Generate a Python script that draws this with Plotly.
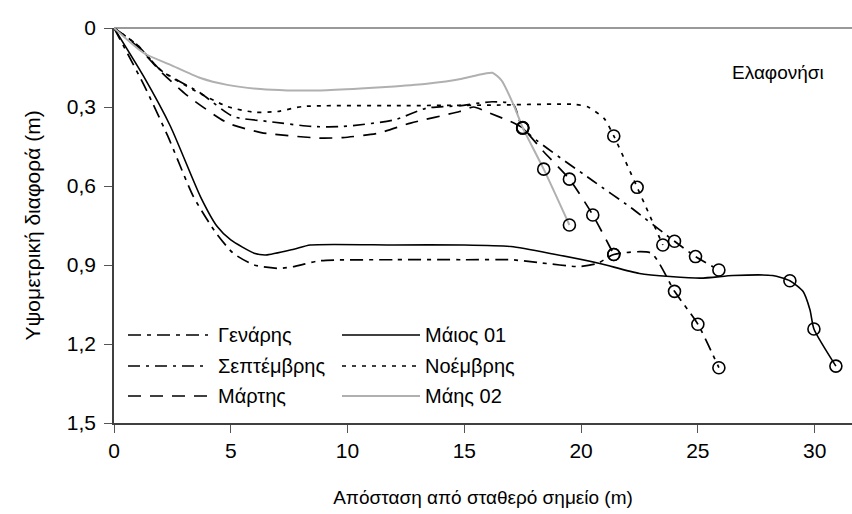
import plotly.graph_objects as go

# Beach profiles at Elafonisi: distance from the fixed point (m) vs elevation difference (m)
jan_x = [0, 1.3, 2.3, 3.4, 4.3, 5.1, 6.0, 7.1, 7.7, 8.8, 12.0, 15.0, 17.0, 18.3, 19.9, 20.7, 21.4, 23.0, 24.0, 25.0, 25.9]
jan_y = [0, 0.22, 0.41, 0.64, 0.77, 0.855, 0.90, 0.913, 0.906, 0.884, 0.88, 0.88, 0.88, 0.892, 0.906, 0.894, 0.86, 0.855, 1.0, 1.125, 1.29]
jan_rings = [16, 18, 19, 20]

sep_x = [0, 1.0, 2.0, 3.7, 5.1, 6.6, 8.5, 9.8, 12.0, 13.4, 14.8, 16.2, 17.1, 17.5, 20.5, 22.1, 24.0, 24.9, 25.9]
sep_y = [0, 0.065, 0.16, 0.247, 0.336, 0.355, 0.374, 0.374, 0.349, 0.304, 0.295, 0.28, 0.29, 0.38, 0.58, 0.68, 0.81, 0.868, 0.919]
sep_rings = [13, 16, 17, 18]

mar_x = [0, 1.0, 2.0, 3.1, 4.85, 6.3, 8.8, 9.8, 11.3, 12.7, 14.8, 15.4, 16.0, 17.1, 17.5, 18.4, 19.5, 20.5, 21.4]
mar_y = [0, 0.07, 0.165, 0.254, 0.36, 0.397, 0.418, 0.416, 0.40, 0.361, 0.317, 0.30, 0.32, 0.36, 0.38, 0.47, 0.574, 0.71, 0.86]
mar_rings = [14, 16, 17, 18]

may1_x = [0, 1.27, 2.42, 3.7, 4.42, 5.0, 6.0, 6.5, 7.7, 8.4, 12.0, 15.0, 17.0, 18.8, 20.8, 22.5, 25.1, 26.5, 28.2, 28.94, 29.5, 29.8, 29.97, 30.91]
may1_y = [0, 0.184, 0.374, 0.64, 0.754, 0.805, 0.855, 0.862, 0.84, 0.824, 0.824, 0.824, 0.83, 0.858, 0.894, 0.932, 0.95, 0.94, 0.94, 0.96, 1.0, 1.07, 1.143, 1.284]
may1_rings = [19, 22, 23]

nov_x = [0, 1.0, 2.0, 3.4, 4.85, 6.0, 7.0, 8.1, 12.0, 16.0, 19.7, 20.3, 21.0, 21.4, 22.4, 23.5]
nov_y = [0, 0.065, 0.16, 0.235, 0.298, 0.32, 0.317, 0.298, 0.295, 0.293, 0.29, 0.30, 0.345, 0.41, 0.605, 0.824]
nov_rings = [13, 14, 15]

may2_x = [0, 1.27, 2.42, 3.7, 4.85, 6.27, 7.42, 8.84, 10.55, 12.0, 13.4, 14.84, 15.5, 16.2, 16.6, 17.1, 17.5, 18.4, 19.5]
may2_y = [0, 0.095, 0.14, 0.19, 0.216, 0.232, 0.237, 0.237, 0.23, 0.222, 0.212, 0.194, 0.18, 0.17, 0.2, 0.29, 0.378, 0.536, 0.748]
may2_rings = [16, 17, 18]

y_ticks = [0, 0.3, 0.6, 0.9, 1.2, 1.5]
y_tick_text = ["0", "0,3", "0,6", "0,9", "1,2", "1,5"]
x_ticks = [0, 5, 10, 15, 20, 25, 30]

FONT = "Liberation Sans, Arial, sans-serif"

series = [
    # name, xs, ys, ringed points, colour, width, dash, legend column, legend row
    ("Γενάρης", jan_x, jan_y, jan_rings, "black", 1.7, "13px,6px,4px,6px", 0, 0),
    ("Σεπτέμβρης", sep_x, sep_y, sep_rings, "black", 1.7, "12px,6px,3px,6px", 0, 1),
    ("Μάρτης", mar_x, mar_y, mar_rings, "black", 1.7, "13px,9px", 0, 2),
    ("Μάιος 01", may1_x, may1_y, may1_rings, "black", 1.6, "solid", 1, 0),
    ("Νοέμβρης", nov_x, nov_y, nov_rings, "black", 1.7, "4px,6px", 1, 1),
    ("Μάης 02", may2_x, may2_y, may2_rings, "#b0b0b0", 2, "solid", 1, 2),
]

fig = go.Figure()
for name, xs, ys, rings, colour, width, dash, col, row in series:
    fig.add_trace(go.Scatter(
        x=xs, y=ys, mode="lines", name=name, showlegend=False,
        line=dict(color=colour, width=width, dash=dash, shape="spline", smoothing=0.6),
    ))
for name, xs, ys, rings, colour, width, dash, col, row in series:
    fig.add_trace(go.Scatter(
        x=[xs[k] for k in rings], y=[ys[k] for k in rings], mode="markers",
        showlegend=False, hoverinfo="skip",
        marker=dict(symbol="circle-open", size=12, color="black", line=dict(width=1.6, color="black")),
    ))

# Key in the lower-left corner of the plot area: two columns of three entries
PLOT_L, PLOT_W, PLOT_T, PLOT_H = 114, 738, 28, 395
col_line = [(128, 208), (342, 420)]
col_text = [216, 423]
row_y = [335, 366, 396]

def px(xp):
    return (xp - PLOT_L) / PLOT_W

def py(yp):
    return 1 - (yp - PLOT_T) / PLOT_H

shapes = []
annotations = []
for name, xs, ys, rings, colour, width, dash, col, row in series:
    x0, x1 = col_line[col]
    shapes.append(dict(type="line", xref="paper", yref="paper",
                       x0=px(x0), x1=px(x1), y0=py(row_y[row]), y1=py(row_y[row]),
                       line=dict(color=colour, width=width, dash=dash)))
    annotations.append(dict(text=name, xref="paper", yref="paper",
                            x=px(col_text[col]), y=py(row_y[row]), xanchor="left", yanchor="middle",
                            showarrow=False, font=dict(family=FONT, size=20, color="black")))

annotations.append(dict(
    text="Ελαφονήσι", xref="paper", yref="paper", x=px(826), y=py(72),
    xanchor="right", yanchor="middle", showarrow=False,
    font=dict(family=FONT, size=19, color="black"),
))

fig.update_layout(
    width=852, height=514,
    margin=dict(l=PLOT_L, r=0, t=PLOT_T, b=514 - PLOT_T - PLOT_H),
    paper_bgcolor="white", plot_bgcolor="white",
    font=dict(family=FONT, size=18, color="black"),
    showlegend=False,
    xaxis=dict(
        range=[0, 31.6], tickvals=x_ticks, ticks="outside", ticklen=8, tickcolor="#555555",
        showline=True, linecolor="#404040", linewidth=1.5, showgrid=False, zeroline=False,
        tickfont=dict(family=FONT, size=21, color="black"),
        title=dict(text="Απόσταση από σταθερό σημείο (m)", standoff=30,
                   font=dict(family=FONT, size=19, color="black")),
    ),
    yaxis=dict(
        range=[1.5, 0], tickvals=y_ticks, ticktext=y_tick_text, ticks="outside", ticklen=8,
        tickcolor="#555555", showline=True, linecolor="#404040", linewidth=1.5, showgrid=False,
        zeroline=True, zerolinecolor="#999999", zerolinewidth=2,
        ticklabelstandoff=4,
        tickfont=dict(family=FONT, size=21, color="black"),
        title=dict(text="Υψομετρική διαφορά (m)", standoff=20,
                   font=dict(family=FONT, size=21, color="black")),
    ),
    shapes=shapes,
    annotations=annotations,
)

fig.write_html("out.html")
